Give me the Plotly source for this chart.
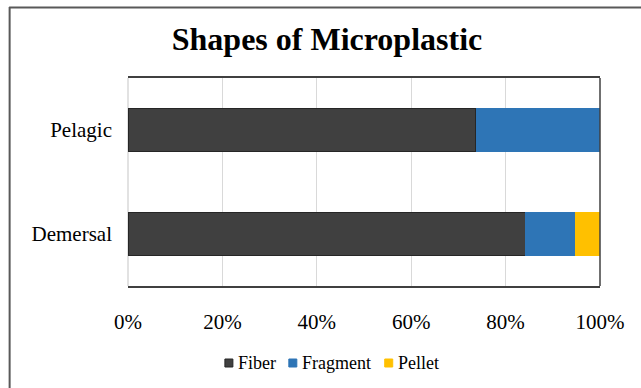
import plotly.graph_objects as go

# Share of each microplastic shape per fish habitat (%)
categories = ["Demersal", "Pelagic"]
series_names = ["Fiber", "Fragment", "Pellet"]
fiber = [84.2, 73.7]
fragment = [10.5, 26.3]
pellet = [5.3, 0.0]

tick_vals = [0, 20, 40, 60, 80, 100]
tick_text = ["0%", "20%", "40%", "60%", "80%", "100%"]

colors = ["#404040", "#2E75B6", "#FFC000"]

W, H = 641, 388
L, R, T, B = 128, 40.5, 78, 102
pw, ph = W - L - R, H - T - B


def px(x):
    return (x - L) / pw


def py(y):
    return (H - B - y) / ph


fig = go.Figure()
for name, vals, col in zip(series_names, [fiber, fragment, pellet], colors):
    edge = dict(color="#262626", width=1) if name == "Fiber" else dict(width=0)
    fig.add_trace(go.Bar(y=categories, x=vals, name=name, orientation="h",
                         marker=dict(color=col, line=edge), showlegend=False))

serif = "Liberation Serif, Times New Roman, serif"

fig.update_layout(
    width=W, height=H,
    barmode="stack", bargap=0.585,
    margin=dict(l=L, r=R, t=T, b=B),
    paper_bgcolor="white", plot_bgcolor="white",
    font=dict(family=serif, color="#000000"),
    title=dict(text="<b>Shapes of Microplastic</b>", x=327 / W, xanchor="center",
               y=1 - 39 / H, yanchor="middle", font=dict(size=32, family=serif)),
    xaxis=dict(range=[0, 100], tickvals=tick_vals, ticktext=tick_text,
               showgrid=True, gridcolor="#D9D9D9", gridwidth=1,
               showline=True, mirror=True, linecolor="#404040", linewidth=1.5,
               zeroline=False, ticks="", ticklabelstandoff=16,
               tickfont=dict(size=21, family=serif)),
    yaxis=dict(showgrid=False, showline=False, zeroline=False, ticks="",
               ticklabelstandoff=15, tickfont=dict(size=21, family=serif)),
    showlegend=False,
)

# Compact legend below the axis: small square swatch followed by the series name
legend_x = [225, 289, 385]
legend_y = 363
for name, col, x0 in zip(series_names, colors, legend_x):
    fig.add_shape(type="rect", xref="paper", yref="paper",
                  x0=px(x0), x1=px(x0 + 8), y0=py(legend_y - 4), y1=py(legend_y + 4),
                  fillcolor=col, line=dict(color="#262626" if name == "Fiber" else col, width=1))
    fig.add_annotation(x=px(x0 + 11), y=py(legend_y), xref="paper", yref="paper",
                       text=name, showarrow=False, xanchor="left", yanchor="middle",
                       font=dict(size=18, family=serif, color="#000000"))

# Light left edge at 0% and dark right edge of the plot frame
fig.add_shape(type="line", xref="paper", yref="paper", x0=0, x1=0, y0=0, y1=1,
              line=dict(color="#D9D9D9", width=1.5), layer="below")
fig.add_shape(type="line", xref="paper", yref="paper", x0=1, x1=1, y0=0, y1=1,
              line=dict(color="#404040", width=1.5))
# Outer chart border (top and left edges visible)
fig.add_shape(type="line", xref="paper", yref="paper",
              x0=px(9), x1=px(660), y0=py(7.5), y1=py(7.5),
              line=dict(color="#595959", width=2))
fig.add_shape(type="line", xref="paper", yref="paper",
              x0=px(9.5), x1=px(9.5), y0=py(7), y1=py(400),
              line=dict(color="#595959", width=2))

fig.write_html("out.html")
